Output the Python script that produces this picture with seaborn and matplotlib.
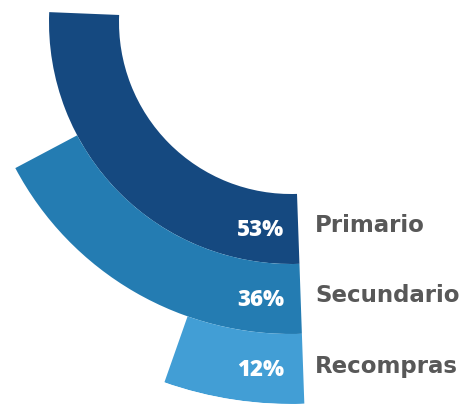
import matplotlib
matplotlib.use("Agg")
import matplotlib.pyplot as plt
import numpy as np
import seaborn as sns

categories = ["Primario", "Secundario", "Recompras"]
values = [53, 36, 12]
pct_labels = ["53%", "36%", "12%"]
colors = ["#154980", "#247CB2", "#429ED5"]

W, H = 472, 405
cx, cy = 291, 22          # centre of the rings, in pixels from top-left
r_inner, band = 172, 70   # inner radius of first ring and ring width (px)
deg_per_pct = 1.78        # sweep of the arcs
r_max = r_inner + band * len(values)

sns.set_theme(style="white")

fig = plt.figure(figsize=(W / 100, H / 100), dpi=100)
ax = fig.add_axes(
    [(cx - r_max) / W, (H - cy - r_max) / H, 2 * r_max / W, 2 * r_max / H],
    projection="polar",
)
ax.set_theta_offset(np.deg2rad(-88))
ax.set_theta_direction(-1)
ax.set_ylim(0, r_max)

radii = [r_inner + band * (i + 0.5) for i in range(len(values))]
ax.barh(
    radii,
    np.deg2rad(np.array(values) * deg_per_pct),
    left=0,
    height=band,
    color=colors,
    edgecolor="none",
)
ax.axis("off")

for i, (cat, pct) in enumerate(zip(categories, pct_labels)):
    y_mid = cy + radii[i]
    fig.text(284 / W, 1 - (y_mid + 1) / H, pct, color="white",
             fontsize=16, fontweight=800, family="Open Sans",
             ha="right", va="center")
    fig.text(315 / W, 1 - (y_mid - 3) / H, cat, color="#585858",
             fontsize=16.5, fontweight="bold", family="DejaVu Sans",
             ha="left", va="center")

fig.savefig("out.png", dpi=100)
